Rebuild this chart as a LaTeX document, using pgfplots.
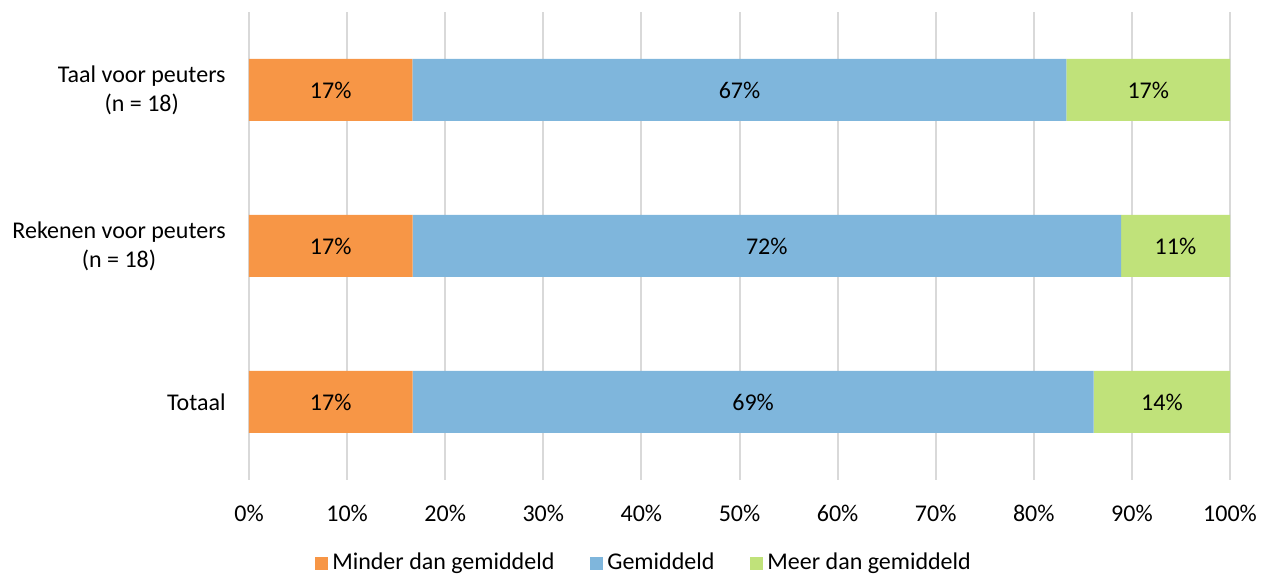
\documentclass[border=0pt]{standalone}
\usepackage{pgfplots}
\pgfplotsset{compat=1.18}
\usepackage{fontspec}
\setmainfont{Carlito}
\definecolor{minder}{HTML}{F79646}
\definecolor{gem}{HTML}{7FB6DC}
\definecolor{meer}{HTML}{C0E27A}
\definecolor{gridgrey}{HTML}{D9D9D9}
\begin{document}
\begin{tikzpicture}[font=\fontsize{12}{14.5}\selectfont]
\useasboundingbox (-124.5pt,-48pt) rectangle (509.5pt,240pt);
\begin{axis}[
    at={(0pt,0pt)}, anchor=south west,
    xbar stacked, bar width=31pt,
    x=4.905pt, y=78pt,
    xmin=0, xmax=100, ymin=-0.5, ymax=2.5,
    axis line style={draw=none},
    major tick length=0pt,
    xtick={0,10,...,100},
    xticklabels={0\%,10\%,20\%,30\%,40\%,50\%,60\%,70\%,80\%,90\%,100\%},
    xticklabel style={anchor=center, yshift=-16.5pt, inner sep=0pt},
    ytick={0,1,2},
    yticklabels={Totaal,{Rekenen voor peuters\\(n = 18)},{Taal voor peuters\\(n = 18)}},
    yticklabel style={align=center, anchor=east, inner sep=0pt, xshift=-11.5pt},
    xmajorgrids, ymajorgrids=false,
    major grid style={gridgrey, line width=1pt},
    legend style={at={(0.4037,-0.1774)}, anchor=center, draw=none, legend columns=-1,
        /tikz/every even column/.append style={column sep=16pt}, inner sep=0pt},
    legend image code/.code={\fill[#1] (0pt,-3.25pt) rectangle (6.5pt,3.25pt);},
]
\addplot[fill=minder, draw=none] coordinates {(16.66,2) (16.67,1) (16.67,0)};
\addlegendentry{Minder dan gemiddeld}
\addplot[fill=gem, draw=none] coordinates {(66.67,2) (72.22,1) (69.44,0)};
\addlegendentry{Gemiddeld}
\addplot[fill=meer, draw=none] coordinates {(16.67,2) (11.11,1) (13.89,0)};
\addlegendentry{Meer dan gemiddeld}
\end{axis}
\begin{axis}[
    at={(0pt,0pt)}, anchor=south west,
    x=4.905pt, y=78pt,
    xmin=0, xmax=100, ymin=-0.5, ymax=2.5,
    hide axis,
]
\addplot[draw=none, mark=none, nodes near coords, point meta=explicit symbolic,
    every node near coord/.append style={anchor=center, text=black}]
    coordinates {
    (8.33,2) [17\%] (50.00,2) [67\%] (91.67,2) [17\%]
    (8.33,1) [17\%] (52.78,1) [72\%] (94.44,1) [11\%]
    (8.33,0) [17\%] (51.39,0) [69\%] (93.06,0) [14\%]
    };
\end{axis}
\end{tikzpicture}
\end{document}
